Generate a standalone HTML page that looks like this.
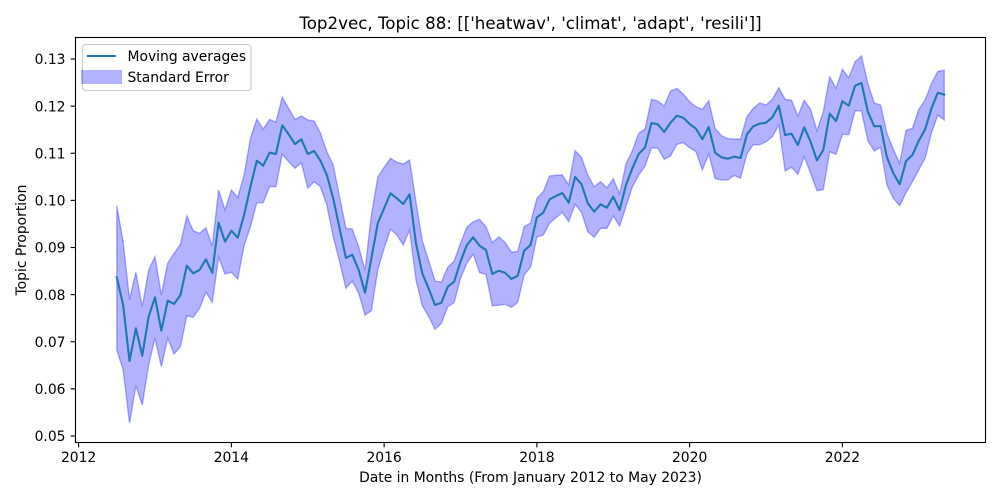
<!DOCTYPE html>
<html lang="en">
<head>
<meta charset="utf-8">
<title>Top2vec, Topic 88</title>
<style>
html,body{margin:0;padding:0;background:#fff;width:1000px;height:500px;overflow:hidden}
svg{display:block}
text{font-family:"DejaVu Sans","Liberation Sans",sans-serif;fill:#000}
</style>
</head>
<body>
<svg id="chart" xmlns="http://www.w3.org/2000/svg" width="1000" height="500" viewBox="0 0 1000 500">
  <rect x="0" y="0" width="1000" height="500" fill="#fff"/>
  <text x="530.5" y="29" font-size="16.67" text-anchor="middle">Top2vec, Topic 88: [['heatwav', 'climat', 'adapt', 'resili']]</text>
  <g id="marks"></g>
  <g id="ticks"></g>
  <rect x="75.5" y="37.5" width="910" height="405" fill="none" stroke="#000" stroke-width="1.11"/>
  <text x="530.5" y="482" font-size="13.89" text-anchor="middle">Date in Months (From January 2012 to May 2023)</text>
  <text x="0" y="0" font-size="13.89" text-anchor="middle" transform="translate(26,240) rotate(-90)">Topic Proportion</text>
  <g>
    <rect x="82.5" y="44.5" width="168.5" height="46" rx="3" fill="#fff" fill-opacity="0.8" stroke="#ccc" stroke-width="1.11"/>
    <line x1="87" y1="56" x2="116" y2="56" stroke="#1f77b4" stroke-width="2.08"/>
    <text x="127.5" y="61" font-size="13.89">Moving averages</text>
    <rect x="81" y="70" width="41" height="14" fill="#0000ff" fill-opacity="0.3"/>
    <text x="127.5" y="82" font-size="13.89">Standard Error</text>
  </g>
</svg>
<script>
const firstYear = 2012;
const firstMonth = 6;
const xTickLabels = [2012, 2014, 2016, 2018, 2020, 2022];
const yTickLabels = ["0.05", "0.06", "0.07", "0.08", "0.09", "0.10", "0.11", "0.12", "0.13"];
const movingAverages = [
0.08368,0.07780,0.06592,0.07285,0.06704,0.07532,0.07943,0.07234,0.07871,0.07801,
0.07992,0.08614,0.08452,0.08523,0.08750,0.08465,0.09526,0.09123,0.09356,0.09208,
0.09690,0.10290,0.10842,0.10736,0.11012,0.10984,0.11593,0.11402,0.11196,0.11296,
0.10984,0.11048,0.10842,0.10538,0.10044,0.09407,0.08777,0.08847,0.08523,0.08041,
0.08771,0.09514,0.09832,0.10150,0.10044,0.09923,0.10129,0.09089,0.08452,0.08126,
0.07780,0.07829,0.08168,0.08274,0.08699,0.09053,0.09216,0.09038,0.08947,0.08438,
0.08508,0.08465,0.08332,0.08402,0.08932,0.09053,0.09641,0.09738,0.10023,0.10093,
0.10156,0.09951,0.10496,0.10347,0.09938,0.09760,0.09917,0.09845,0.10078,0.09796,
0.10326,0.10681,0.10984,0.11126,0.11642,0.11614,0.11451,0.11648,0.11797,0.11754,
0.11621,0.11521,0.11296,0.11557,0.11012,0.10914,0.10884,0.10927,0.10899,0.11402,
0.11572,0.11629,0.11648,0.11763,0.12009,0.11387,0.11415,0.11175,0.11551,0.11245,
0.10850,0.11069,0.11839,0.11684,0.12102,0.12009,0.12433,0.12491,0.11882,0.11572,
0.11578,0.10914,0.10575,0.10341,0.10836,0.10963,0.11266,0.11508,0.11954,0.12285,
0.12242];
const upperBand = [
0.09881,0.09123,0.07901,0.08474,0.07744,0.08523,0.08805,0.07992,0.08665,0.08877,
0.09068,0.09668,0.09356,0.09301,0.09420,0.09038,0.10220,0.09796,0.10220,0.10065,
0.10538,0.11317,0.11727,0.11508,0.11720,0.11663,0.12187,0.11954,0.11720,0.11790,
0.11706,0.11684,0.11430,0.11033,0.10751,0.10078,0.09407,0.09393,0.09017,0.08523,
0.09690,0.10490,0.10702,0.10893,0.10808,0.10772,0.10857,0.09972,0.09144,0.08720,
0.08289,0.08268,0.08580,0.08714,0.09089,0.09429,0.09547,0.09598,0.09441,0.09102,
0.09229,0.09110,0.08898,0.08919,0.09441,0.09520,0.10044,0.10184,0.10517,0.10532,
0.10538,0.10326,0.11054,0.10914,0.10538,0.10290,0.10396,0.10269,0.10460,0.10135,
0.10772,0.11054,0.11423,0.11515,0.12145,0.12109,0.12003,0.12321,0.12378,0.12257,
0.12094,0.11988,0.11933,0.12115,0.11529,0.11372,0.11309,0.11302,0.11302,0.11776,
0.11954,0.12066,0.12024,0.12145,0.12391,0.12145,0.12124,0.11790,0.12124,0.11933,
0.11478,0.11882,0.12624,0.12378,0.12781,0.12603,0.12943,0.13064,0.12484,0.12066,
0.12024,0.11423,0.11084,0.10787,0.11487,0.11529,0.11933,0.12130,0.12484,0.12739,
0.12760];
const lowerBand = [
0.06825,0.06401,0.05269,0.06067,0.05658,0.06507,0.07073,0.06471,0.07073,0.06740,
0.06895,0.07553,0.07519,0.07710,0.08049,0.07837,0.08792,0.08438,0.08474,0.08332,
0.09038,0.09441,0.09951,0.09951,0.10290,0.10290,0.10978,0.10821,0.10681,0.10799,
0.10256,0.10396,0.10290,0.09902,0.09229,0.08699,0.08134,0.08289,0.08028,0.07568,
0.07659,0.08523,0.08983,0.09386,0.09265,0.09053,0.09371,0.08310,0.07765,0.07532,
0.07264,0.07392,0.07744,0.07829,0.08346,0.08665,0.08862,0.08465,0.08431,0.07765,
0.07773,0.07795,0.07731,0.07837,0.08416,0.08580,0.09223,0.09265,0.09514,0.09632,
0.09747,0.09547,0.09917,0.09747,0.09335,0.09216,0.09407,0.09407,0.09668,0.09456,
0.09866,0.10290,0.10538,0.10729,0.11118,0.11105,0.10872,0.10942,0.11190,0.11224,
0.11118,0.11033,0.10645,0.10984,0.10460,0.10432,0.10432,0.10532,0.10468,0.10984,
0.11183,0.11179,0.11245,0.11351,0.11599,0.10623,0.10702,0.10553,0.10927,0.10575,
0.10205,0.10226,0.11033,0.10978,0.11402,0.11394,0.11903,0.11897,0.11266,0.11048,
0.11126,0.10326,0.10044,0.09887,0.10163,0.10396,0.10645,0.10893,0.11436,0.11812,
0.11706];

const NS = "http://www.w3.org/2000/svg";
const axisX = { x0: 78.6, perYear: 76.38 };
const axisY = { y0: 436, perUnit: 4712.5 };
function xScale(year) { return axisX.x0 + (year - 2012) * axisX.perYear; }
function yScale(v) { return axisY.y0 - (v - 0.05) * axisY.perUnit; }
function dateAt(i) { return firstYear + (firstMonth + i) / 12; }
function make(tag, attrs) {
  const el = document.createElementNS(NS, tag);
  for (const k in attrs) el.setAttribute(k, attrs[k]);
  return el;
}
const marks = document.getElementById("marks");
const ticks = document.getElementById("ticks");

const upperPts = upperBand.map((v, i) => xScale(dateAt(i)).toFixed(2) + "," + yScale(v).toFixed(2));
const lowerPts = lowerBand.map((v, i) => xScale(dateAt(i)).toFixed(2) + "," + yScale(v).toFixed(2)).reverse();
const band = make("polygon", {
  points: upperPts.concat(lowerPts).join(" "),
  fill: "#0000ff", "fill-opacity": 0.3, stroke: "#0000ff", "stroke-opacity": 0.3, "stroke-width": 1.39, "stroke-linejoin": "miter"
});


marks.appendChild(band);

const meanLine = make("polyline", {
  points: movingAverages.map((v, i) => xScale(dateAt(i)).toFixed(2) + "," + yScale(v).toFixed(2)).join(" "),
  fill: "none", stroke: "#1f77b4", "stroke-width": 2.08, "stroke-linejoin": "round", "stroke-linecap": "square"
});


marks.appendChild(meanLine);

xTickLabels.forEach(function (label) {
  const x = xScale(label);
  const t = make("line", { x1: x, x2: x, y1: 442.5, y2: 447.4, stroke: "#000", "stroke-width": 1.11 });
  
  
  ticks.appendChild(t);
  const s = make("text", { x: x, y: 462, "font-size": 13.89, "text-anchor": "middle" });
  
  
  s.textContent = label;
  ticks.appendChild(s);
});
yTickLabels.forEach(function (label) {
  const y = yScale(parseFloat(label));
  const t = make("line", { x1: 70.6, x2: 75.5, y1: y, y2: y, stroke: "#000", "stroke-width": 1.11 });
  
  
  ticks.appendChild(t);
  const s = make("text", { x: 65.5, y: y + 5.2, "font-size": 13.89, "text-anchor": "end" });
  
  
  s.textContent = label;
  ticks.appendChild(s);
});
</script>
</body>
</html>
